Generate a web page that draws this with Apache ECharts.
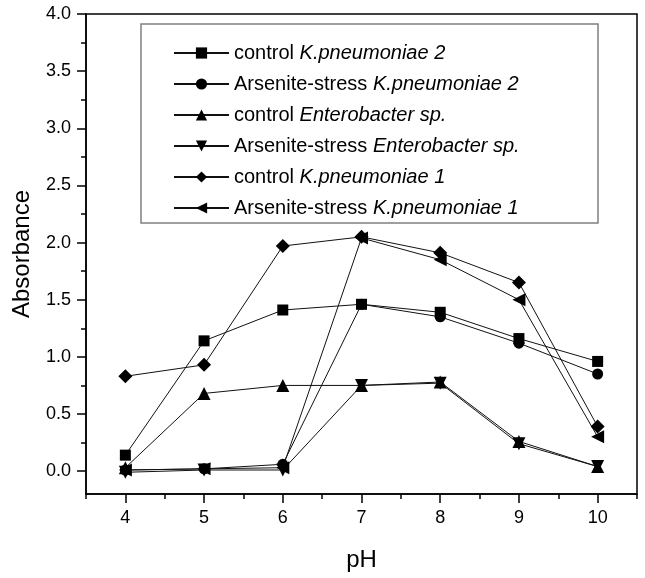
<!DOCTYPE html>
<html>
<head>
<meta charset="utf-8">
<script src="https://cdn.jsdelivr.net/npm/echarts@6/dist/echarts.min.js"></script>
<style>
html, body { margin: 0; padding: 0; background: #fff; }
#chart { width: 645px; height: 578px; }
</style>
</head>
<body>
<div id="chart"></div>
<script>
// pH values on x axis
const phValues = [4, 5, 6, 7, 8, 9, 10]
// absorbance per series
const controlKp2 = [0.14, 1.14, 1.41, 1.46, 1.39, 1.16, 0.96]
const arsKp2 = [0.01, 0.02, 0.06, 1.46, 1.35, 1.12, 0.85]
const controlEnt = [0.03, 0.68, 0.75, 0.75, 0.78, 0.26, 0.04]
const arsEnt = [-0.01, 0.01, 0.01, 0.75, 0.77, 0.24, 0.04]
const controlKp1 = [0.83, 0.93, 1.97, 2.05, 1.91, 1.65, 0.39]
const arsKp1 = [0.01, 0.02, 0.03, 2.04, 1.85, 1.50, 0.30]

// tick positions
const yMajor = [0, 0.5, 1, 1.5, 2, 2.5, 3, 3.5, 4]
const yMinor = [0.25, 0.75, 1.25, 1.75, 2.25, 2.75, 3.25, 3.75]
const xMajor = [4, 5, 6, 7, 8, 9, 10]
const xMinor = [3.5, 4.5, 5.5, 6.5, 7.5, 8.5, 9.5, 10.5]

const font = 'Liberation Sans, Arial, sans-serif'

function pairs(vals) {
  return phValues.map((x, i) => [x, vals[i]])
}

function makeSeries(name, vals, symbol, rotate) {
  return {
    name: name,
    type: 'line',
    data: pairs(vals),
    symbol: symbol,
    symbolRotate: rotate || 0,
    symbolSize: symbol === 'diamond' ? 14 : (symbol === 'triangle' ? 13 : 11),
    lineStyle: { color: '#111', width: 1 },
    itemStyle: { color: '#000' },
    emphasis: { disabled: true }
  }
}

const myChart = echarts.init(document.getElementById('chart'))

const option = {
  animation: false,
  grid: {
    left: 86,
    right: 8,
    top: 14,
    bottom: 84,
    show: true,
    borderColor: '#000',
    borderWidth: 1.5
  },
  graphic: [
    {
      type: 'rect',
      shape: { x: 141, y: 24, width: 457, height: 199 },
      style: { fill: '#fff', stroke: '#808080', lineWidth: 1.5 },
      z: 5
    }
  ],
  legend: {
    orient: 'vertical',
    left: 173,
    top: 43,
    padding: 0,
    itemWidth: 55,
    itemHeight: 14,
    itemGap: 11,
    z: 10,
    selectedMode: false,
    formatter: function (name) {
      const i = name.indexOf(' ')
      return '{n|' + name.slice(0, i + 1) + '}{i|' + name.slice(i + 1) + '}'
    },
    textStyle: {
      color: '#000',
      fontSize: 20,
      fontFamily: font,
      lineHeight: 20,
      rich: {
        n: { fontSize: 20, fontFamily: font, color: '#000', lineHeight: 20 },
        i: { fontSize: 20, fontFamily: font, color: '#000', fontStyle: 'italic', lineHeight: 20 }
      }
    }
  },
  xAxis: [
    {
      type: 'value',
      min: 3.5,
      max: 10.5,
      position: 'bottom',
      name: 'pH',
      nameLocation: 'middle',
      nameGap: 54,
      nameTextStyle: { fontSize: 24, fontFamily: font, color: '#000' },
      axisLine: { onZero: false, lineStyle: { color: '#000', width: 1.5 } },
      axisTick: { show: true, customValues: xMajor, length: 9, lineStyle: { color: '#000', width: 1.5 } },
      axisLabel: { customValues: xMajor, margin: 15, fontSize: 18, fontFamily: font, color: '#000' },
      splitLine: { show: false }
    },
    {
      type: 'value',
      min: 3.5,
      max: 10.5,
      position: 'bottom',
      axisLine: { show: false, onZero: false },
      axisTick: { show: true, customValues: xMinor, length: 5, lineStyle: { color: '#000', width: 1.5 } },
      axisLabel: { show: false },
      splitLine: { show: false }
    }
  ],
  yAxis: [
    {
      type: 'value',
      min: -0.2,
      max: 4,
      position: 'left',
      name: 'Absorbance',
      nameLocation: 'middle',
      nameGap: 52,
      nameTextStyle: { fontSize: 24, fontFamily: font, color: '#000' },
      axisLine: { show: true, onZero: false, lineStyle: { color: '#000', width: 1.5 } },
      axisTick: { show: true, customValues: yMajor, length: 9, lineStyle: { color: '#000', width: 1.5 } },
      axisLabel: {
        customValues: yMajor,
        margin: 15,
        fontSize: 18,
        fontFamily: font,
        color: '#000',
        formatter: v => v.toFixed(1)
      },
      splitLine: { show: false }
    },
    {
      type: 'value',
      min: -0.2,
      max: 4,
      position: 'left',
      axisLine: { show: false, onZero: false },
      axisTick: { show: true, customValues: yMinor, length: 5, lineStyle: { color: '#000', width: 1.5 } },
      axisLabel: { show: false },
      splitLine: { show: false }
    }
  ],
  series: [
    makeSeries('control K.pneumoniae 2', controlKp2, 'rect'),
    makeSeries('Arsenite-stress K.pneumoniae 2', arsKp2, 'circle'),
    makeSeries('control Enterobacter sp.', controlEnt, 'triangle'),
    makeSeries('Arsenite-stress Enterobacter sp.', arsEnt, 'triangle', 180),
    makeSeries('control K.pneumoniae 1', controlKp1, 'diamond'),
    makeSeries('Arsenite-stress K.pneumoniae 1', arsKp1, 'triangle', 90)
  ]
}

myChart.setOption(option)
</script>
</body>
</html>
